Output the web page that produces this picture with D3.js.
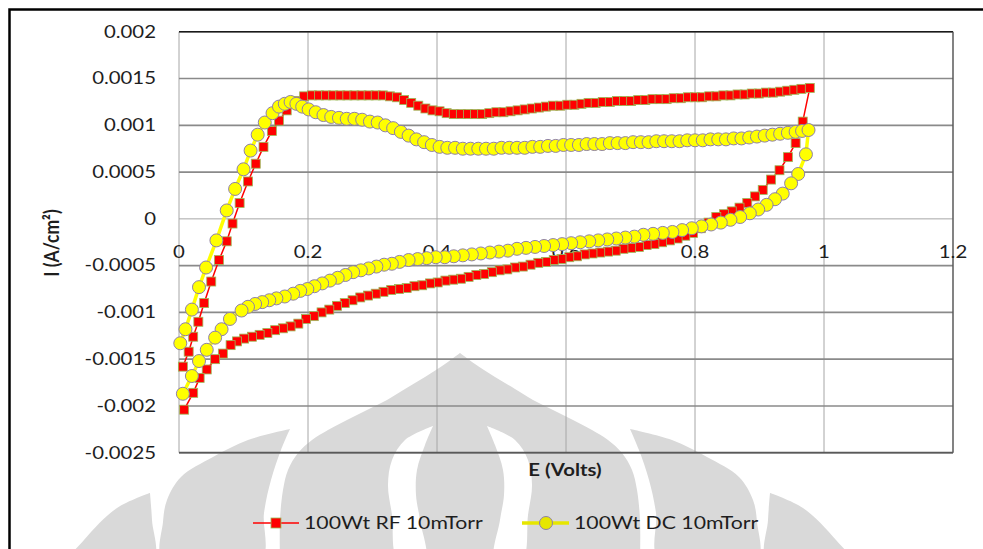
<!DOCTYPE html>
<html>
<head>
<meta charset="utf-8">
<script src="https://cdn.jsdelivr.net/npm/d3@7"></script>
<style>
  body { margin: 0; background: #fff; }
  svg { display: block; }
  text { font-family: Lato, "Open Sans", "Liberation Sans", sans-serif; fill: #1e1e1e; }
</style>
</head>
<body>
<svg id="chart" width="983" height="549"></svg>
<script>
// Cyclic voltammograms, current density I (A/cm²) against potential E (V)
// Each sweep is a list of [E, I] pairs.
const rfForward = [
  [0.006,-0.00158],[0.015,-0.00142],[0.022,-0.00126],[0.030,-0.00110],[0.039,-0.00090],
  [0.050,-0.00067],[0.062,-0.00044],[0.074,-0.00024],[0.083,-0.00005],[0.094,0.00017],
  [0.107,0.00040],[0.119,0.00059],[0.131,0.00077],[0.144,0.00094],[0.155,0.00105],
  [0.167,0.00116],[0.181,0.00126],[0.194,0.00131],[0.206,0.00132],[0.217,0.00132],
  [0.228,0.00132],[0.239,0.00132],[0.250,0.00132],[0.261,0.00132],[0.272,0.00132],
  [0.283,0.00132],[0.294,0.00132],[0.305,0.00132],[0.316,0.00132],[0.327,0.00131],
  [0.338,0.00130],[0.349,0.00127],[0.360,0.00124],[0.371,0.00121],[0.382,0.00118],
  [0.393,0.00116],[0.404,0.00115],[0.415,0.00113],[0.426,0.00112],[0.437,0.00112],
  [0.448,0.00112],[0.459,0.00112],[0.470,0.00112],[0.481,0.00113],[0.492,0.00114],
  [0.503,0.00114],[0.514,0.00115],[0.525,0.00116],[0.536,0.00117],[0.547,0.00118],
  [0.558,0.00119],[0.569,0.00120],[0.580,0.00121],[0.591,0.00121],[0.602,0.00122],
  [0.613,0.00122],[0.624,0.00123],[0.635,0.00124],[0.646,0.00124],[0.657,0.00125],
  [0.668,0.00125],[0.679,0.00126],[0.690,0.00126],[0.701,0.00126],[0.712,0.00127],
  [0.723,0.00127],[0.734,0.00128],[0.745,0.00128],[0.756,0.00128],[0.767,0.00129],
  [0.778,0.00129],[0.789,0.00130],[0.800,0.00130],[0.811,0.00130],[0.822,0.00131],
  [0.833,0.00131],[0.844,0.00132],[0.855,0.00132],[0.866,0.00133],[0.877,0.00133],
  [0.888,0.00134],[0.899,0.00134],[0.910,0.00135],[0.921,0.00135],[0.932,0.00136],
  [0.943,0.00137],[0.954,0.00138],[0.965,0.00139],[0.978,0.00140]
];
const rfReverse = [
  [0.967,0.00104],[0.956,0.00081],[0.944,0.00066],[0.931,0.00052],[0.918,0.00042],
  [0.905,0.00031],[0.893,0.00024],[0.881,0.00017],[0.869,0.00012],[0.857,0.00008],
  [0.845,0.00005],[0.833,0.00002],[0.821,-0.00004],[0.809,-0.00010],[0.797,-0.00015],
  [0.785,-0.00018],[0.773,-0.00021],[0.761,-0.00023],[0.749,-0.00025],[0.737,-0.00027],
  [0.725,-0.00028],[0.713,-0.00030],[0.701,-0.00031],[0.689,-0.00032],[0.677,-0.00034],
  [0.665,-0.00035],[0.653,-0.00036],[0.641,-0.00037],[0.629,-0.00038],[0.617,-0.00040],
  [0.605,-0.00041],[0.593,-0.00043],[0.581,-0.00044],[0.569,-0.00046],[0.557,-0.00047],
  [0.545,-0.00049],[0.533,-0.00051],[0.521,-0.00052],[0.509,-0.00054],[0.497,-0.00055],
  [0.485,-0.00057],[0.473,-0.00059],[0.461,-0.00060],[0.449,-0.00062],[0.437,-0.00064],
  [0.425,-0.00065],[0.413,-0.00066],[0.401,-0.00068],[0.389,-0.00069],[0.377,-0.00071],
  [0.365,-0.00072],[0.353,-0.00074],[0.341,-0.00075],[0.329,-0.00076],[0.317,-0.00078],
  [0.305,-0.00080],[0.293,-0.00082],[0.281,-0.00084],[0.269,-0.00087],[0.257,-0.00090],
  [0.245,-0.00093],[0.233,-0.00097],[0.221,-0.00100],[0.209,-0.00104],[0.197,-0.00107],
  [0.185,-0.00112],[0.173,-0.00115],[0.161,-0.00117],[0.149,-0.00119],[0.137,-0.00122],
  [0.125,-0.00124],[0.113,-0.00126],[0.101,-0.00128],[0.090,-0.00131],[0.080,-0.00135],
  [0.068,-0.00144],[0.056,-0.00150],[0.043,-0.00161],[0.032,-0.00170],[0.022,-0.00186],
  [0.008,-0.00204]
];
const dcForward = [
  [0.002,-0.00133],[0.010,-0.00118],[0.020,-0.00097],[0.031,-0.00073],[0.042,-0.00052],
  [0.058,-0.00023],[0.074,0.00009],[0.087,0.00032],[0.100,0.00053],[0.111,0.00073],
  [0.122,0.00090],[0.133,0.00103],[0.145,0.00113],[0.155,0.00120],[0.164,0.00123],
  [0.173,0.00125],[0.182,0.00123],[0.191,0.00120],[0.201,0.00117],[0.212,0.00114],
  [0.224,0.00111],[0.236,0.00109],[0.248,0.00108],[0.260,0.00107],[0.272,0.00107],
  [0.284,0.00106],[0.296,0.00104],[0.308,0.00103],[0.320,0.00100],[0.332,0.00097],
  [0.344,0.00093],[0.356,0.00089],[0.368,0.00085],[0.380,0.00082],[0.392,0.00079],
  [0.404,0.00077],[0.416,0.00076],[0.428,0.00076],[0.440,0.00075],[0.452,0.00075],
  [0.464,0.00075],[0.476,0.00075],[0.488,0.00075],[0.500,0.00076],[0.512,0.00076],
  [0.524,0.00076],[0.536,0.00076],[0.548,0.00077],[0.560,0.00077],[0.572,0.00078],
  [0.584,0.00078],[0.596,0.00079],[0.608,0.00079],[0.620,0.00079],[0.632,0.00080],
  [0.644,0.00080],[0.656,0.00080],[0.668,0.00081],[0.680,0.00081],[0.692,0.00081],
  [0.704,0.00082],[0.716,0.00082],[0.728,0.00082],[0.740,0.00083],[0.752,0.00083],
  [0.764,0.00083],[0.776,0.00083],[0.788,0.00084],[0.800,0.00084],[0.812,0.00084],
  [0.824,0.00085],[0.836,0.00085],[0.848,0.00085],[0.860,0.00086],[0.872,0.00086],
  [0.884,0.00087],[0.896,0.00088],[0.908,0.00089],[0.920,0.00090],[0.932,0.00091],
  [0.944,0.00092],[0.956,0.00093],[0.966,0.00094],[0.976,0.00095]
];
const dcReverse = [
  [0.972,0.00069],[0.960,0.00048],[0.949,0.00038],[0.936,0.00027],[0.924,0.00021],
  [0.911,0.00015],[0.898,0.00010],[0.885,0.00006],[0.870,0.00002],[0.855,-0.00001],
  [0.840,-0.00004],[0.825,-0.00006],[0.810,-0.00008],[0.795,-0.00010],[0.780,-0.00012],
  [0.765,-0.00014],[0.750,-0.00015],[0.735,-0.00016],[0.720,-0.00017],[0.706,-0.00019],
  [0.692,-0.00020],[0.678,-0.00021],[0.664,-0.00022],[0.650,-0.00023],[0.636,-0.00024],
  [0.622,-0.00025],[0.608,-0.00026],[0.594,-0.00027],[0.580,-0.00028],[0.566,-0.00029],
  [0.552,-0.00030],[0.538,-0.00031],[0.524,-0.00032],[0.510,-0.00034],[0.496,-0.00035],
  [0.482,-0.00036],[0.468,-0.00037],[0.454,-0.00038],[0.440,-0.00039],[0.426,-0.00040],
  [0.412,-0.00041],[0.398,-0.00041],[0.384,-0.00042],[0.370,-0.00043],[0.356,-0.00044],
  [0.342,-0.00046],[0.330,-0.00048],[0.318,-0.00049],[0.306,-0.00051],[0.294,-0.00053],
  [0.282,-0.00055],[0.270,-0.00057],[0.258,-0.00060],[0.246,-0.00063],[0.234,-0.00066],
  [0.222,-0.00069],[0.210,-0.00072],[0.199,-0.00075],[0.188,-0.00077],[0.177,-0.00080],
  [0.164,-0.00083],[0.151,-0.00085],[0.140,-0.00087],[0.129,-0.00089],[0.118,-0.00091],
  [0.107,-0.00094],[0.097,-0.00098],[0.079,-0.00107],[0.066,-0.00118],[0.056,-0.00127],
  [0.043,-0.00140],[0.031,-0.00152],[0.020,-0.00168],[0.006,-0.00187]
];

const seriesNames = ["100Wt RF 10mTorr", "100Wt DC 10mTorr"];
const xTicks = [0, 0.2, 0.4, 0.6, 0.8, 1, 1.2];
const xTickLabels = ["0", "0.2", "0.4", "0.6", "0.8", "1", "1.2"];
const yTicks = [0.002, 0.0015, 0.001, 0.0005, 0, -0.0005, -0.001, -0.0015, -0.002, -0.0025];
const yTickLabels = ["0.002", "0.0015", "0.001", "0.0005", "0", "-0.0005", "-0.001", "-0.0015", "-0.002", "-0.0025"];
const xTitle = "E (Volts)";
const yTitle = "I (A/cm²)";

const svg = d3.select("#chart");
const SX = 1.25; // horizontal stretch of the lettering

const x = d3.scaleLinear().domain([0, 1.2]).range([179, 953]);
const y = d3.scaleLinear().domain([-0.0025, 0.002]).range([452.7, 31.8]);

// ---- faint emblem in the background ----
const wm = svg.append("g").attr("fill", "#d9d9d9");
const CX = 460;
const smooth = d3.line().curve(d3.curveCatmullRom.alpha(0.5));
const mirror = pts => pts.map(([px, py]) => [2 * CX - px, py]);
const domeProfile = [[0,353],[15,364],[35,377],[55,389],[73,400],[93,410],[113,420],[132,430],[148,440],[162,453],[172,470],[177,490],[180,520],[180,560]];
const domeLeft = domeProfile.map(([w, py]) => [CX - w, py]).reverse();
const domeRight = domeProfile.map(([w, py]) => [CX + w, py]);
wm.append("path").attr("d", smooth(domeLeft) + "L" + smooth(domeRight).slice(1) + "Z");

const crescent = [[290,429],[281,450],[271,480],[264,513],[261,560],[163,560],[163,522],[167,500],[181,477],[213,457],[248,440],[290,429]];
const outerPiece = [[150,493],[152,520],[153,560],[70,560],[84,540],[117,508],[150,493]];
[crescent, outerPiece].forEach(p => {
  wm.append("path").attr("d", smooth(p) + "Z");
  wm.append("path").attr("d", smooth(mirror(p)) + "Z");
});
const innerStrip = [[433,426],[405,440],[392,460],[388,485],[392,515],[398,560],[425,560],[420,520],[416,495],[417,470],[425,445],[433,426]];
wm.append("path").attr("fill", "#fff").attr("d", smooth(innerStrip) + "Z");
wm.append("path").attr("fill", "#fff").attr("d", smooth(mirror(innerStrip)) + "Z");

// ---- outer frame ----
svg.append("path").attr("d", "M9.5,549V9.5H983").attr("fill", "none").attr("stroke", "#000").attr("stroke-width", 2.5);

// ---- gridlines ----
const grid = svg.append("g");
grid.selectAll("line.v").data(xTicks).join("line")
  .attr("x1", d => x(d)).attr("x2", d => x(d))
  .attr("y1", y(0.002)).attr("y2", y(-0.0025))
  .attr("stroke", "#a6a6a6").attr("stroke-width", 1);
grid.selectAll("line.h").data(yTicks).join("line")
  .attr("x1", x(0)).attr("x2", x(1.2))
  .attr("y1", d => y(d)).attr("y2", d => y(d))
  .attr("stroke", d => d === 0 ? "#a6a6a6" : "#8a8a8a")
  .attr("stroke-width", d => d === 0 ? 1 : 1.6);
// plot frame
svg.append("line").attr("x1", x(0)).attr("x2", x(1.2)).attr("y1", y(0.002)).attr("y2", y(0.002)).attr("stroke", "#1a1a1a").attr("stroke-width", 1.5);
svg.append("line").attr("x1", x(1.2)).attr("x2", x(1.2)).attr("y1", y(0.002)).attr("y2", y(-0.0025)).attr("stroke", "#4d4d4d").attr("stroke-width", 1.2);
svg.append("line").attr("x1", x(0)).attr("x2", x(1.2)).attr("y1", y(-0.0025)).attr("y2", y(-0.0025)).attr("stroke", "#595959").attr("stroke-width", 1.8);

// ---- tick labels ----
function label(g, px, py, str, anchor, extra) {
  const t = g.append("text")
    .attr("transform", `translate(${px},${py}) scale(${SX},1)`)
    .attr("text-anchor", anchor)
    .text(str);
  if (extra) extra(t);
  return t;
}
const labels = svg.append("g").style("font-size", "16.3px");
yTicks.forEach((v, i) => label(labels, 156, y(v) + 5.8, yTickLabels[i], "end"));
xTicks.forEach((v, i) => label(labels, x(v), y(0) + 39, xTickLabels[i], "middle"));

// axis titles
label(svg, 565, 475.7, xTitle, "middle", t => t.style("font-size", "16.3px").style("font-weight", "700"));
svg.append("text")
  .attr("transform", `translate(59,243) scale(1.2,1) rotate(-90)`)
  .attr("text-anchor", "middle")
  .style("font-size", "17.5px").style("font-weight", "700")
  .text(yTitle);

// ---- series ----
const line = d3.line().x(d => x(d[0])).y(d => y(d[1]));
const rf = rfForward.concat(rfReverse);
const dc = dcForward.concat(dcReverse);
const SQ = 9, R = 6.5;

svg.append("path").datum(rf).attr("d", line).attr("fill", "none").attr("stroke", "#ff0000").attr("stroke-width", 1.5);
svg.append("g").selectAll("rect").data(rf).join("rect")
  .attr("x", d => x(d[0]) - SQ / 2).attr("y", d => y(d[1]) - SQ / 2)
  .attr("width", SQ).attr("height", SQ)
  .attr("fill", "#ff0000").attr("stroke", "#9bbb59").attr("stroke-width", 0.8);

svg.append("path").datum(dc).attr("d", line).attr("fill", "none").attr("stroke", "#ffff00").attr("stroke-width", 3.5);
svg.append("g").selectAll("circle").data(dc).join("circle")
  .attr("cx", d => x(d[0])).attr("cy", d => y(d[1])).attr("r", R)
  .attr("fill", "#ffff00").attr("stroke", "#8e80a8").attr("stroke-width", 1);

// ---- legend ----
const lg = svg.append("g");
const LY = 523;
lg.append("line").attr("x1", 253).attr("x2", 299).attr("y1", LY).attr("y2", LY).attr("stroke", "#ff0000").attr("stroke-width", 1.5);
lg.append("rect").attr("x", 276 - 5).attr("y", LY - 5).attr("width", 10).attr("height", 10)
  .attr("fill", "#ff0000").attr("stroke", "#9bbb59").attr("stroke-width", 0.8);
label(lg, 304, 529, seriesNames[0], "start", t => t.style("font-size", "17px"));
lg.append("line").attr("x1", 522).attr("x2", 569).attr("y1", LY).attr("y2", LY).attr("stroke", "#e6e600").attr("stroke-width", 3.5);
lg.append("circle").attr("cx", 546).attr("cy", LY).attr("r", R)
  .attr("fill", "#e6e600").attr("stroke", "#8e80a8").attr("stroke-width", 1);
label(lg, 574, 529, seriesNames[1], "start", t => t.style("font-size", "17px"));
</script>
</body>
</html>
